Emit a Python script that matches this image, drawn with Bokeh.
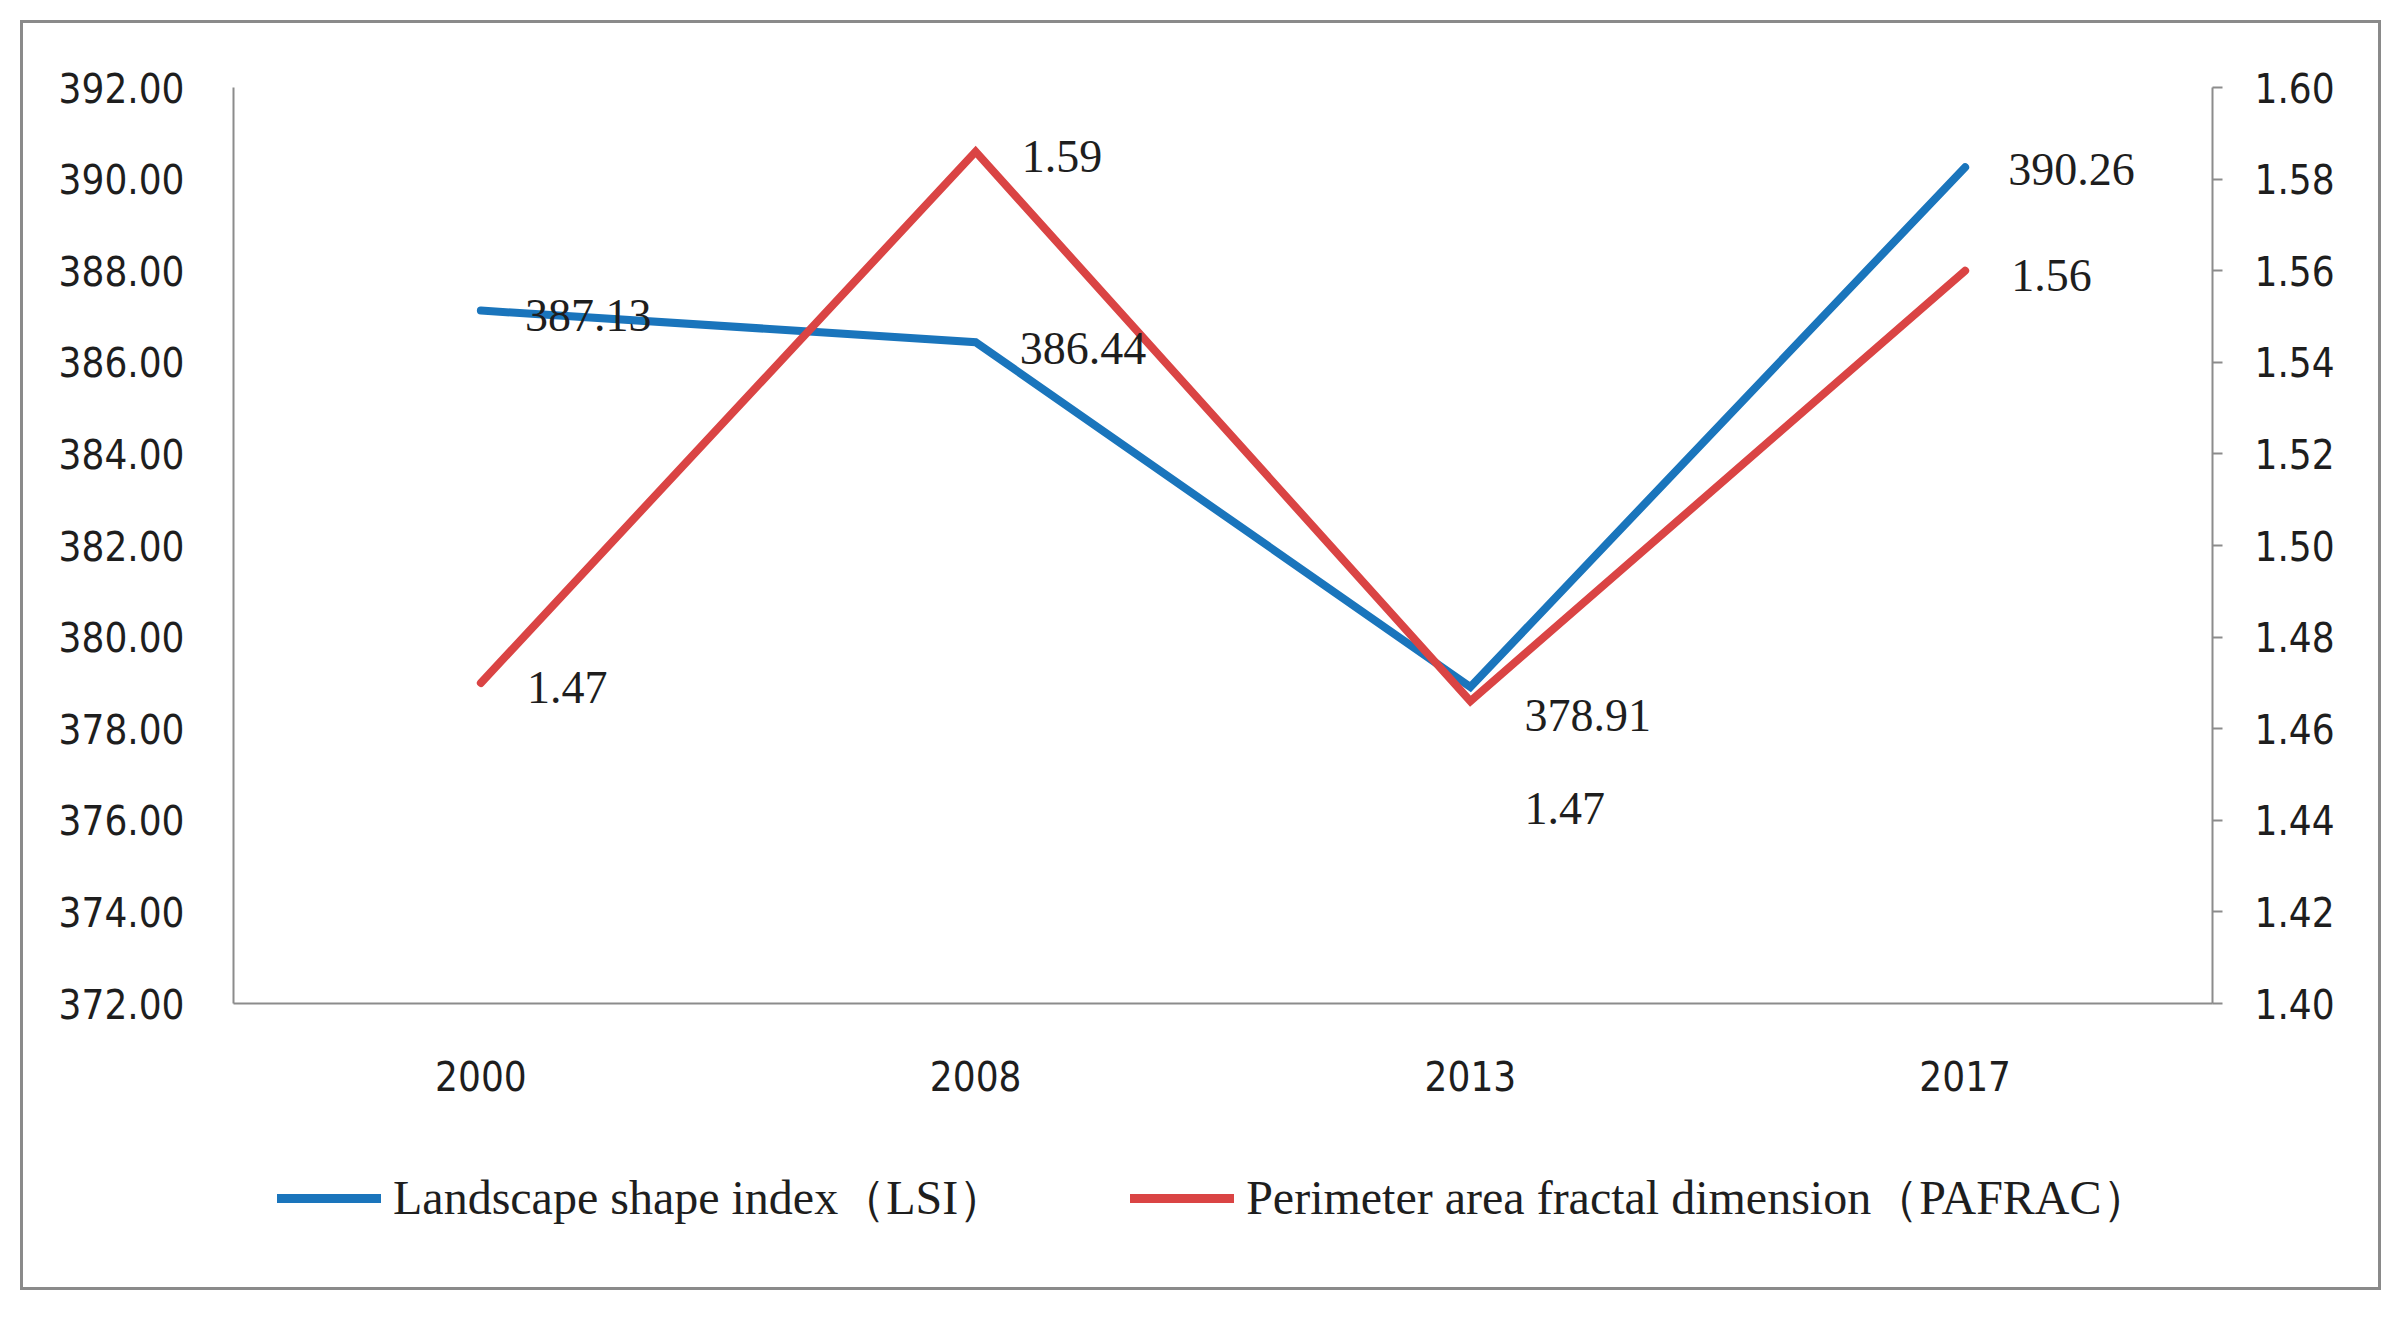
from bokeh.plotting import figure
from bokeh.layouts import column
from bokeh.models import (Range1d, FactorRange, LinearAxis, FixedTicker,
                          NumeralTickFormatter, Legend, LegendItem, ColumnDataSource)
from bokeh.core.properties import value
from bokeh.embed import file_html
from bokeh.resources import INLINE

# ---- data ----
years = ["2000", "2008", "2013", "2017"]
lsi = [387.13, 386.44, 378.91, 390.26]
pafrac = [1.470, 1.586, 1.466, 1.560]
left_ticks = [372, 374, 376, 378, 380, 382, 384, 386, 388, 390, 392]
right_ticks = [1.40, 1.42, 1.44, 1.46, 1.48, 1.50, 1.52, 1.54, 1.56, 1.58, 1.60]
lsi_name = "Landscape shape index（LSI）"
pafrac_name = "Perimeter area fractal dimension（PAFRAC）"

# label placement (styling, screen px)
lsi_dx = [44, 44, 54, 43]
lsi_dy = [5, 6, 28, 2]
paf_dx = [46, 46, 54, 46]
paf_dy = [5, 5, 107, 5]

BLUE = "#1A75BC"
RED = "#DA4444"
AXIS = "#8C8C8C"
TXT = "#1E1E1E"
TICK_FONT = "DejaVu Sans Condensed"
LAB_FONT = "Liberation Serif"

W = 2355
H_MAIN = 1110
H_LEG = 154

p = figure(x_range=FactorRange(factors=years, range_padding=0),
           y_range=Range1d(372, 392),
           width=W, height=H_MAIN,
           output_backend="svg", toolbar_location=None,
           min_border_left=210, min_border_right=166,
           min_border_top=64, min_border_bottom=130)
p.extra_y_ranges = {"right": Range1d(1.40, 1.60)}
p.xgrid.visible = False
p.ygrid.visible = False
p.outline_line_color = None
p.background_fill_color = "white"
p.border_fill_color = "white"

# left axis
ya = p.yaxis[0]
ya.ticker = FixedTicker(ticks=left_ticks)
ya.formatter = NumeralTickFormatter(format="0.00")
ya.axis_line_color = AXIS
ya.axis_line_width = 2
ya.major_tick_line_color = None
ya.minor_tick_line_color = None
ya.major_tick_out = 0
ya.major_tick_in = 0
ya.major_label_standoff = 49
ya.major_label_text_font = TICK_FONT
ya.major_label_text_font_size = "40px"
ya.major_label_text_color = TXT

# right axis
ra = LinearAxis(y_range_name="right", ticker=FixedTicker(ticks=right_ticks),
                formatter=NumeralTickFormatter(format="0.00"))
ra.axis_line_color = AXIS
ra.axis_line_width = 2
ra.major_tick_line_color = AXIS
ra.major_tick_line_width = 2
ra.major_tick_out = 10
ra.major_tick_in = 0
ra.minor_tick_line_color = None
ra.major_label_standoff = 32
ra.major_label_text_font = TICK_FONT
ra.major_label_text_font_size = "40px"
ra.major_label_text_color = TXT
p.add_layout(ra, "right")

# bottom axis
xa = p.xaxis[0]
xa.axis_line_color = AXIS
xa.axis_line_width = 2
xa.major_tick_line_color = None
xa.minor_tick_line_color = None
xa.major_tick_out = 0
xa.major_tick_in = 0
xa.major_label_standoff = 57
xa.major_label_text_font = TICK_FONT
xa.major_label_text_font_size = "40px"
xa.major_label_text_color = TXT

# lines
r_lsi = p.line(years, lsi, line_color=BLUE, line_width=8, line_cap="round", line_join="miter")
r_paf = p.line(years, pafrac, line_color=RED, line_width=8, line_cap="round", line_join="miter",
               y_range_name="right")

# data labels
src_lsi = ColumnDataSource(dict(x=years, y=lsi, t=[f"{v:.2f}" for v in lsi], dx=lsi_dx, dy=lsi_dy))
src_paf = ColumnDataSource(dict(x=years, y=pafrac, t=[f"{v:.2f}" for v in pafrac], dx=paf_dx, dy=paf_dy))
p.text(x="x", y="y", text="t", x_offset="dx", y_offset="dy", source=src_lsi,
       text_font=value(LAB_FONT), text_font_size="46px", text_color=TXT,
       text_align="left", text_baseline="middle")
p.text(x="x", y="y", text="t", x_offset="dx", y_offset="dy", source=src_paf, y_range_name="right",
       text_font=value(LAB_FONT), text_font_size="46px", text_color=TXT,
       text_align="left", text_baseline="middle")

# legend strip (separate figure below the chart; its frame aligns with the chart frame)
lg = figure(width=W, height=H_LEG, x_range=Range1d(0, 1), y_range=Range1d(0, 1),
            x_axis_type=None, y_axis_type=None, output_backend="svg", toolbar_location=None,
            min_border=0)
lg.xgrid.visible = False
lg.ygrid.visible = False
lg.outline_line_color = None
lg.background_fill_color = "white"
lg.border_fill_color = "white"
# swatch renderers kept outside the visible range; only their legend glyphs show
l1 = lg.line(x=[-5, -4], y=[-5, -4], line_color=BLUE, line_width=9, line_cap="round")
l2 = lg.line(x=[-5, -4], y=[-5, -4], line_color=RED, line_width=9, line_cap="round")
legend = Legend(items=[LegendItem(label=lsi_name, renderers=[l1]),
                       LegendItem(label=pafrac_name, renderers=[l2])],
                orientation="horizontal", location=(44, 57),
                label_text_font=LAB_FONT, label_text_font_size="48px", label_text_color=TXT,
                glyph_width=104, glyph_height=40, label_height=40,
                label_standoff=12, spacing=124,
                border_line_color=None, background_fill_alpha=0,
                padding=0, margin=0)
lg.add_layout(legend, "center")

chart = column(p, lg, spacing=0)
chart.styles = {"border": "3px solid #8A8A8A", "background-color": "white",
                "transform": "translate(20px, 20px)"}

open("out.html", "w").write(file_html(chart, INLINE))
